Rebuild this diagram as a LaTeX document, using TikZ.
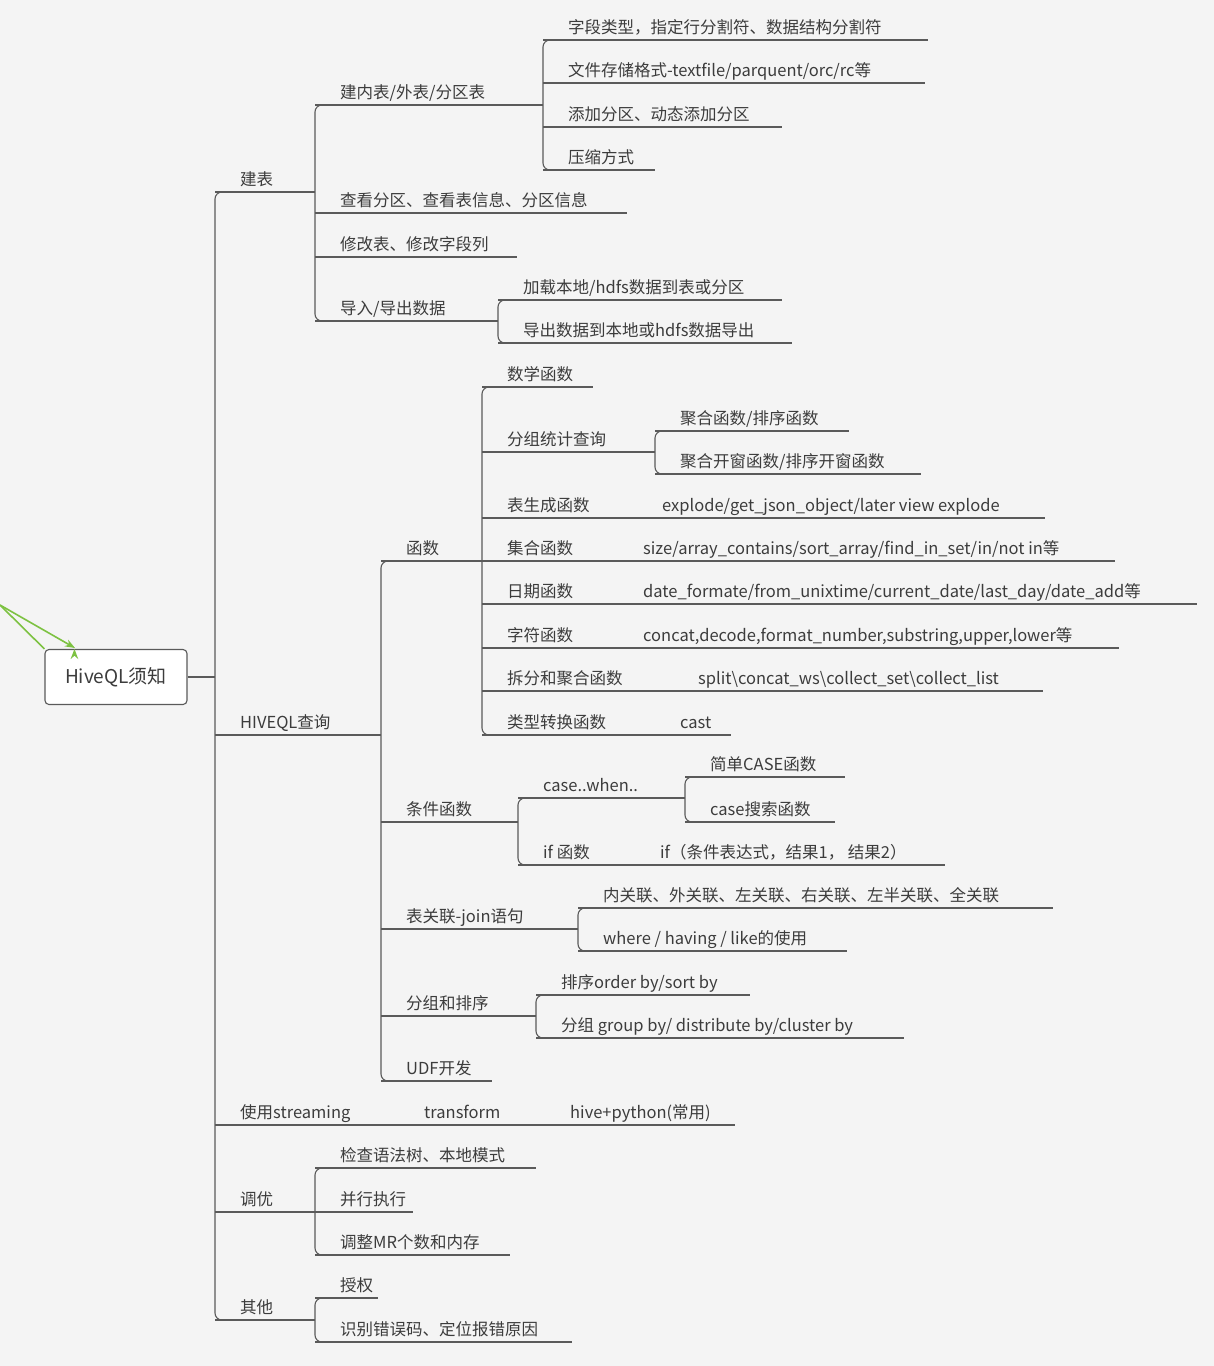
\documentclass[tikz,border=0pt]{standalone}
\usepackage{fontspec}
\setmainfont{Noto Sans CJK SC}
\usetikzlibrary{arrows.meta}
\definecolor{bg}{HTML}{F4F4F4}
\definecolor{ln}{HTML}{5A5A5A}
\definecolor{tx}{HTML}{3C3C3C}
\definecolor{gr}{HTML}{7DC242}
\tikzset{lnst/.style={draw=ln,line width=1.1pt},
 lbl/.style={text=tx,font=\fontsize{16.5}{19}\selectfont,inner sep=0pt,anchor=base west}}
\newcommand\br[5]{\draw[lnst] (#1,#2)--(#3,#2); \node[lbl] (#4) at (#1+25,#2-7){#5};}
\newcommand\sub[4]{\node[lbl] (#1) at (#2,#3-7){#4};}
\newcommand\trunk[3]{\draw[lnst,rounded corners=7] (#1+12,#2)--(#1,#2)--(#1,#3)--(#1+12,#3);}
\begin{document}
\begin{tikzpicture}[x=1pt,y=-1pt]
\fill[bg] (0,0) rectangle (1214,1366);
\useasboundingbox (0,0) rectangle (1214,1366);
\node[draw=ln,line width=1.1pt,rounded corners=4,minimum width=142pt,minimum height=55pt,fill=white,text=tx,font=\fontsize{19}{22}\selectfont] (root) at (116,677) {HiveQL须知};
\coordinate (a0) at (0,605);
\draw[gr,line width=1.6pt,-{Stealth[length=10pt]}] (a0) -- (root.north west) ++(30,0);
\draw[gr,line width=1.6pt,-{Stealth[length=10pt]}] (a0) -- (75,648);
\draw[lnst] (root.east) -- (215,677);
\trunk{215}{192}{1320}
% 建表
\br{215}{192}{315}{jb}{建表}
\trunk{315}{105}{321}
\br{315}{105}{543}{jnb}{建内表/外表/分区表}
\trunk{543}{40}{170}
\br{543}{40}{928}{a1}{字段类型，指定行分割符、数据结构分割符}
\br{543}{83}{925}{a2}{文件存储格式-textfile/parquent/orc/rc等}
\br{543}{127}{782}{a3}{添加分区、动态添加分区}
\br{543}{170}{655}{a4}{压缩方式}
\br{315}{213}{627}{b1}{查看分区、查看表信息、分区信息}
\br{315}{257}{517}{b2}{修改表、修改字段列}
\br{315}{321}{498}{b3}{导入/导出数据}
\trunk{498}{300}{343}
\br{498}{300}{782}{c1}{加载本地/hdfs数据到表或分区}
\br{498}{343}{792}{c2}{导出数据到本地或hdfs数据导出}
% HIVEQL
\br{215}{735}{381}{hq}{HIVEQL查询}
\trunk{381}{561}{1081}
\br{381}{561}{482}{hs}{函数}
\trunk{482}{387}{735}
\br{482}{387}{593}{d1}{数学函数}
\br{482}{452}{655}{d2}{分组统计查询}
\trunk{655}{431}{474}
\br{655}{431}{849}{e1}{聚合函数/排序函数}
\br{655}{474}{921}{e2}{聚合开窗函数/排序开窗函数}
\br{482}{518}{1045}{d3}{表生成函数}\sub{d3b}{662}{518}{explode/get\_json\_object/later view explode}
\br{482}{561}{1115}{d4}{集合函数}\sub{d4b}{643}{561}{size/array\_contains/sort\_array/find\_in\_set/in/not in等}
\br{482}{604}{1197}{d5}{日期函数}\sub{d5b}{643}{604}{date\_formate/from\_unixtime/current\_date/last\_day/date\_add等}
\br{482}{648}{1119}{d6}{字符函数}\sub{d6b}{643}{648}{concat,decode,format\_number,substring,upper,lower等}
\br{482}{691}{1043}{d7}{拆分和聚合函数}\sub{d7b}{698}{691}{split\textbackslash concat\_ws\textbackslash collect\_set\textbackslash collect\_list}
\br{482}{735}{731}{d8}{类型转换函数}\sub{d8b}{680}{735}{cast}
\br{381}{822}{518}{tj}{条件函数}
\trunk{518}{798}{865}
\br{518}{798}{685}{f1}{case..when..}
\trunk{685}{777}{822}
\br{685}{777}{845}{g1}{简单CASE函数}
\br{685}{822}{835}{g2}{case搜索函数}
\br{518}{865}{945}{f2}{if 函数}\sub{f2b}{660}{865}{if（条件表达式，结果1， 结果2）}
\br{381}{929}{578}{bg1}{表关联-join语句}
\trunk{578}{908}{951}
\br{578}{908}{1053}{h1}{内关联、外关联、左关联、右关联、左半关联、全关联}
\br{578}{951}{847}{h2}{where / having / like的使用}
\br{381}{1016}{536}{fz}{分组和排序}
\trunk{536}{995}{1038}
\br{536}{995}{750}{i1}{排序order by/sort by}
\br{536}{1038}{904}{i2}{分组 group by/ distribute by/cluster by}
\br{381}{1081}{492}{udf}{UDF开发}
% streaming
\br{215}{1125}{735}{st}{使用streaming}\sub{st2}{424}{1125}{transform}\sub{st3}{570}{1125}{hive+python(常用)}
% 调优
\br{215}{1212}{315}{ty}{调优}
\trunk{315}{1168}{1255}
\br{315}{1168}{536}{j1}{检查语法树、本地模式}
\br{315}{1212}{413}{j2}{并行执行}
\br{315}{1255}{510}{j3}{调整MR个数和内存}
% 其他
\br{215}{1320}{315}{qt}{其他}
\trunk{315}{1298}{1342}
\br{315}{1298}{378}{k1}{授权}
\br{315}{1342}{572}{k2}{识别错误码、定位报错原因}
\end{tikzpicture}
\end{document}
